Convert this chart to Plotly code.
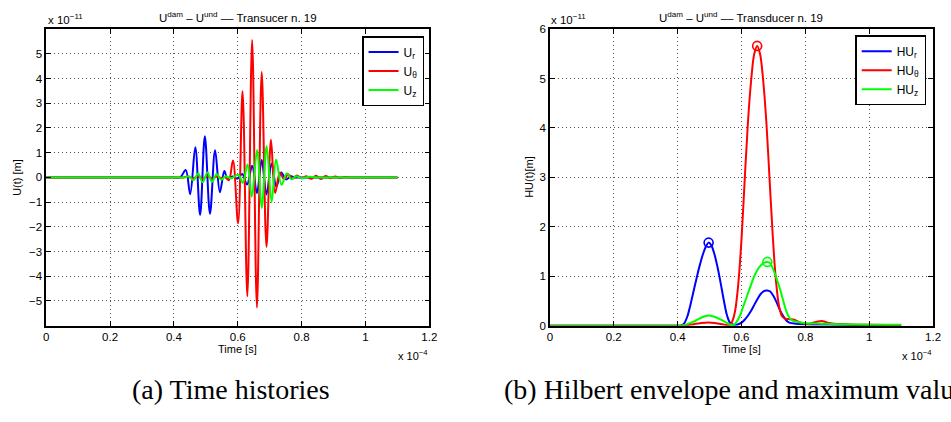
import plotly.graph_objects as go

W, H = 951, 422

# ---- (a) time histories: time in units of 1e-4 s, displacement in units of 1e-11 m
ur_t = [0, 0.40, 0.42, 0.437, 0.451, 0.467, 0.482, 0.497, 0.513, 0.529, 0.544, 0.558, 0.568, 0.584, 0.599,
        0.614, 0.629, 0.645, 0.660, 0.675, 0.690, 0.706, 0.721, 0.736, 0.751, 0.766, 0.78, 0.80, 1.10]
ur_v = [0, 0, 0, 0.30, -0.68, 1.22, -1.52, 1.66, -1.47, 1.10, -0.60, 0.26, -0.06, 0.04, -0.05,
        0.14, -0.29, 0.47, -0.64, 0.70, -0.69, 0.55, -0.38, 0.20, -0.08, 0.04, 0, 0, 0]

ut_t = [0, 0.40, 0.43, 0.445, 0.46, 0.475, 0.49, 0.505, 0.52, 0.535, 0.55, 0.56, 0.572, 0.585, 0.601,
        0.615, 0.630, 0.645, 0.660, 0.675, 0.690, 0.704, 0.717, 0.732, 0.745, 0.758, 0.772, 0.785, 0.80,
        0.815, 0.83, 0.845, 0.86, 0.875, 0.89, 0.905, 0.92, 0.935, 0.95, 1.10]
ut_v = [0, 0, 0, 0.03, -0.04, 0.05, -0.06, 0.06, -0.05, 0.04, -0.03, 0.02, -0.12, 0.68, -1.86,
        3.49, -4.81, 5.56, -5.27, 4.26, -2.81, 1.52, -0.63, 0.20, -0.08, 0.13, -0.05, 0.08, -0.04,
        0.05, -0.06, 0.07, -0.07, 0.06, -0.04, 0.04, -0.03, 0.02, 0, 0]

uz_t = [0, 0.40, 0.435, 0.447, 0.461, 0.476, 0.490, 0.505, 0.519, 0.534, 0.548, 0.562, 0.578, 0.602,
        0.616, 0.6305, 0.644, 0.6606, 0.675, 0.6906, 0.706, 0.720, 0.737, 0.754, 0.768, 0.782, 0.80,
        0.82, 0.85, 1.10]
uz_v = [0, 0, 0, 0.05, -0.12, 0.16, -0.20, 0.20, -0.18, 0.14, -0.10, 0.05, -0.04, 0.10,
        -0.22, 0.52, -0.78, 1.11, -1.24, 1.27, -1.00, 0.72, -0.30, 0.17, -0.08, 0.05, -0.03,
        0.02, 0, 0]

# ---- (b) Hilbert envelopes
hur_t = [0, 0.40, 0.41, 0.42, 0.43, 0.44, 0.45, 0.46, 0.47, 0.48, 0.49, 0.497, 0.505, 0.515, 0.525,
         0.535, 0.545, 0.555, 0.565, 0.575, 0.59, 0.60, 0.61, 0.62, 0.63, 0.64, 0.65, 0.66, 0.67,
         0.681, 0.69, 0.70, 0.71, 0.72, 0.73, 0.74, 0.75, 0.77, 0.80, 0.90, 1.00, 1.10]
hur_v = [0, 0, 0, 0.04, 0.18, 0.42, 0.70, 0.98, 1.24, 1.46, 1.62, 1.68, 1.63, 1.45, 1.18,
         0.85, 0.50, 0.20, 0.05, 0.02, 0.03, 0.06, 0.12, 0.20, 0.30, 0.42, 0.54, 0.64, 0.70,
         0.71, 0.69, 0.60, 0.47, 0.32, 0.20, 0.11, 0.06, 0.04, 0.03, 0.02, 0.01, 0.01]

hut_t = [0, 0.40, 0.41, 0.43, 0.45, 0.47, 0.497, 0.52, 0.54, 0.555, 0.565, 0.572, 0.58, 0.59, 0.60,
         0.61, 0.62, 0.63, 0.64, 0.649, 0.658, 0.668, 0.678, 0.688, 0.698, 0.708, 0.718, 0.728, 0.738,
         0.75, 0.765, 0.78, 0.80, 0.82, 0.84, 0.855, 0.87, 0.89, 0.92, 0.96, 1.00, 1.10]
hut_v = [0, 0, 0, 0.01, 0.03, 0.05, 0.065, 0.05, 0.03, 0.01, 0.02, 0.10, 0.30, 0.85, 1.75,
         2.95, 4.10, 4.95, 5.50, 5.66, 5.50, 4.95, 4.10, 2.95, 1.80, 0.90, 0.38, 0.18, 0.14,
         0.13, 0.12, 0.07, 0.04, 0.05, 0.085, 0.09, 0.06, 0.04, 0.03, 0.02, 0.02, 0.01]

huz_t = [0, 0.40, 0.41, 0.43, 0.45, 0.47, 0.485, 0.497, 0.51, 0.53, 0.55, 0.565, 0.575, 0.585, 0.595,
         0.605, 0.615, 0.625, 0.64, 0.655, 0.67, 0.681, 0.69, 0.70, 0.71, 0.72, 0.73, 0.74, 0.75,
         0.76, 0.78, 0.80, 0.85, 0.90, 1.00, 1.10]
huz_v = [0, 0, 0, 0.03, 0.08, 0.15, 0.19, 0.205, 0.19, 0.14, 0.07, 0.02, 0.01, 0.08, 0.20,
         0.38, 0.56, 0.74, 1.00, 1.18, 1.27, 1.29, 1.26, 1.13, 0.95, 0.75, 0.52, 0.30, 0.16,
         0.10, 0.07, 0.05, 0.04, 0.03, 0.02, 0.02]

# envelope maxima
peak_t = [0.497, 0.649, 0.681]
peak_v = [1.68, 5.66, 1.29]

x_ticks = [0, 0.2, 0.4, 0.6, 0.8, 1.0, 1.2]
x_ticktext = ["0", "0.2", "0.4", "0.6", "0.8", "1", "1.2"]
ya_ticks = [-5, -4, -3, -2, -1, 0, 1, 2, 3, 4, 5]
yb_ticks = [0, 1, 2, 3, 4, 5, 6]

BLUE, RED, GREEN = "#0000ff", "#ff0000", "#00ff00"
FONT = "Liberation Sans, Arial, Helvetica, sans-serif"
SERIF = "Liberation Serif, Times New Roman, serif"

fig = go.Figure()

def line(xs, ys, color, name, xa, ya, leg):
    fig.add_trace(go.Scatter(x=xs, y=ys, mode="lines", name=name,
                             line=dict(color=color, width=2, shape="spline", smoothing=1),
                             xaxis=xa, yaxis=ya, legend=leg))

line(ur_t, ur_v, BLUE, "U<sub>r</sub>", "x", "y", "legend")
line(ut_t, ut_v, RED, "U<sub>θ</sub>", "x", "y", "legend")
line(uz_t, uz_v, GREEN, "U<sub>z</sub>", "x", "y", "legend")

line(hur_t, hur_v, BLUE, "HU<sub>r</sub>", "x2", "y2", "legend2")
line(hut_t, hut_v, RED, "HU<sub>θ</sub>", "x2", "y2", "legend2")
line(huz_t, huz_v, GREEN, "HU<sub>z</sub>", "x2", "y2", "legend2")

fig.add_trace(go.Scatter(x=peak_t, y=peak_v, mode="markers", showlegend=False,
                         marker=dict(symbol="circle-open", size=9,
                                     color=[BLUE, RED, GREEN],
                                     line=dict(width=1.6, color=[BLUE, RED, GREEN])),
                         xaxis="x2", yaxis="y2"))

ax_common = dict(showline=True, linecolor="black", linewidth=1.5, mirror="ticks",
                 ticks="inside", ticklen=5, tickcolor="black", tickwidth=1,
                 showgrid=True, gridcolor="#555555", gridwidth=1, griddash="1px,3px",
                 zeroline=False, tickfont=dict(family=FONT, size=11.5, color="black"))

ydom = [1 - 329 / H, 1 - 23.8 / H]
fig.update_layout(
    width=W, height=H, margin=dict(l=0, r=0, t=0, b=0),
    paper_bgcolor="white", plot_bgcolor="white",
    font=dict(family=FONT, color="black"),
    xaxis=dict(domain=[43.7 / W, 431.3 / W], range=[0, 1.2], tickvals=x_ticks,
               ticktext=x_ticktext, anchor="y", **ax_common),
    yaxis=dict(domain=ydom, range=[-6, 6], tickvals=ya_ticks, anchor="x", **ax_common),
    xaxis2=dict(domain=[553.3 / W, 941 / W], range=[0, 1.2], tickvals=x_ticks,
                ticktext=x_ticktext, anchor="y2", **ax_common),
    yaxis2=dict(domain=ydom, range=[0, 6], tickvals=yb_ticks, anchor="x2", **ax_common),
    legend=dict(x=426 / W, xanchor="right", y=1 - 31 / H, yanchor="top",
                bordercolor="black", borderwidth=1.5, bgcolor="white",
                font=dict(family=FONT, size=12), tracegroupgap=0),
    legend2=dict(x=934 / W, xanchor="right", y=1 - 30 / H, yanchor="top",
                 bordercolor="black", borderwidth=1.5, bgcolor="white",
                 font=dict(family=FONT, size=12), tracegroupgap=0),
    showlegend=True,
)

def ann(text, x, y, size=11.5, xanchor="center", yanchor="middle", angle=0, family=FONT):
    fig.add_annotation(text=text, x=x / W, y=1 - y / H, xref="paper", yref="paper",
                       showarrow=False, xanchor=xanchor, yanchor=yanchor, textangle=angle,
                       font=dict(family=family, size=size, color="black"))

ann("U<sup>dam</sup> – U<sup>und</sup> –– Transucer n. 19", 237.5, 11)
ann("U<sup>dam</sup> – U<sup>und</sup> –– Transducer n. 19", 747, 11)
ann("x 10<sup>−11</sup>", 43, 13, xanchor="left")
ann("x 10<sup>−11</sup>", 552, 13, xanchor="left")
ann("Time [s]", 237.5, 353, size=11)
ann("Time [s]", 747, 353, size=11)
ann("x 10<sup>−4</sup>", 432, 359, size=11, xanchor="right")
ann("x 10<sup>−4</sup>", 942, 359, size=11, xanchor="right")
ann("U(t) [m]", 14, 176, size=11, angle=-90)
ann("HU(t)[m]", 532, 176, size=11, angle=-90)
ann("(a) Time histories", 231, 395, size=28, family=SERIF)
ann("(b) Hilbert envelope and maximum values", 505, 395, size=28, xanchor="left", family=SERIF)

fig.write_html("out.html")
